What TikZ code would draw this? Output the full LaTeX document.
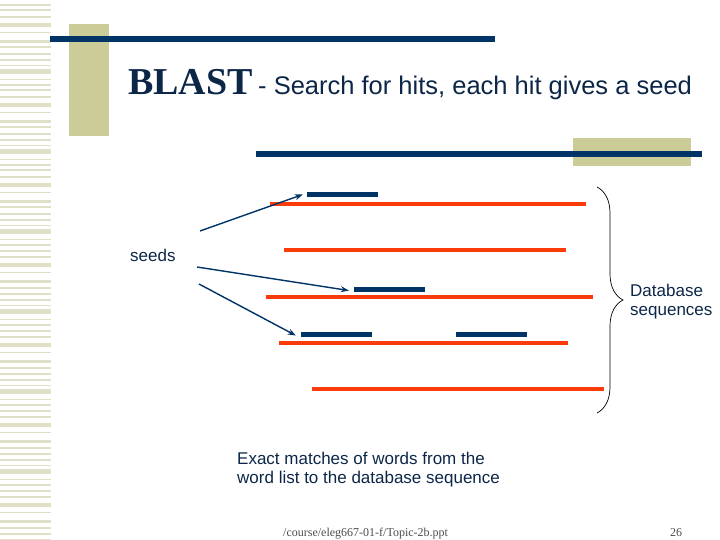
\documentclass[tikz,border=0pt]{standalone}
\usepackage{fontspec}
\setmainfont{Liberation Sans}
\newfontfamily\slideserif{Liberation Serif}
\usetikzlibrary{arrows.meta,decorations.pathreplacing}

\definecolor{slidenavy}{RGB}{0,51,102}
\definecolor{slidetext}{RGB}{12,38,72}
\definecolor{dborange}{RGB}{250,60,10}
\definecolor{khaki}{RGB}{204,204,153}
\definecolor{stripe}{RGB}{224,224,200}

\tikzset{
  dbline/.style={dborange, line width=4.5pt},
  seedbar/.style={fill=slidenavy, inner sep=0pt, minimum height=5pt, minimum width=71pt},
  seedarrow/.style={slidenavy, line width=1.4pt, -{Stealth[length=8pt,width=6pt]}},
  label/.style={text=slidetext, inner sep=0pt, font=\fontsize{17}{19}\selectfont, align=left}
}

\begin{document}
\begin{tikzpicture}[x=1pt, y=-1pt]
    \useasboundingbox (0,0) rectangle (720,540);

    % Striped margin on the left
    \foreach \b in {0,...,6} {
        \foreach \y/\w in {5/2.7, 10.5/2, 17/1.5, 25/3.3, 32.5/1.7, 41.5/3.3, 47.5/2, 54/2.3, 60/2.3, 65.5/1.5, 71.5/5, 79.5/1.5} {
            \draw[stripe, line width=\w pt] (0,{\y+80*\b}) -- (51,{\y+80*\b});
        }
    }

    % Title decoration
    \fill[khaki] (69,24) rectangle (109,136);
    \fill[slidenavy] (50,36) rectangle (495,42);
    \fill[khaki] (573,138) rectangle (691,166);
    \fill[slidenavy] (256,151) rectangle (702,157);

    % Title
    \node[anchor=base west, inner sep=0pt, text=slidetext, font=\slideserif\bfseries\fontsize{38}{38}\selectfont] (blast) at (128,95) {BLAST};
    \node[anchor=base west, inner sep=0pt, text=slidetext, font=\fontsize{25.5}{26}\selectfont] (title) at (258,95) {- Search for hits, each hit gives a seed};

    % Database sequences (orange lines)
    \draw[dbline] (270,204) -- (586,204);
    \draw[dbline] (284,250) -- (566,250);
    \draw[dbline] (266,297) -- (593,297);
    \draw[dbline] (279,343) -- (568,343);
    \draw[dbline] (312,389) -- (604,389);

    % Seeds (navy bars)
    \node[seedbar] (seed1) at (342.5,194.5) {};
    \node[seedbar] (seed2) at (389.5,289.5) {};
    \node[seedbar] (seed3) at (336.5,334.5) {};
    \node[seedbar] (seed4) at (491.5,334.5) {};

    % Label and arrows
    \node[label, anchor=base west] (seeds) at (130,261) {seeds};
    \coordinate (from1) at (200,231);
    \coordinate (from2) at (197,267);
    \coordinate (from3) at (199,284);
    \draw[seedarrow] (from1) -- ([xshift=-4pt]seed1.west);
    \draw[seedarrow] (from2) -- ([xshift=-5pt,yshift=-1pt]seed2.west);
    \draw[seedarrow] (from3) -- ([xshift=-5pt,yshift=-1pt]seed3.west);

    % Brace round the database sequences
    \draw[black, line width=0.7pt, decorate, decoration={brace, amplitude=26pt}] (597,187) -- (597,413);
    \node[label, anchor=north west] (dbseq) at (630,283.5) {Database\\sequences};

    % Caption
    \node[label, anchor=north west] (caption) at (237,451.5) {Exact matches of words from the\\word list to the database sequence};

    % Footer
    \node[anchor=base west, inner sep=0pt, text=black!70, font=\slideserif\fontsize{12}{12}\selectfont] (footer) at (283,536) {/course/eleg667-01-f/Topic-2b.ppt};
    \node[anchor=base west, inner sep=0pt, text=black!70, font=\slideserif\fontsize{12}{12}\selectfont] (pagenum) at (670,536) {26};
\end{tikzpicture}
\end{document}
